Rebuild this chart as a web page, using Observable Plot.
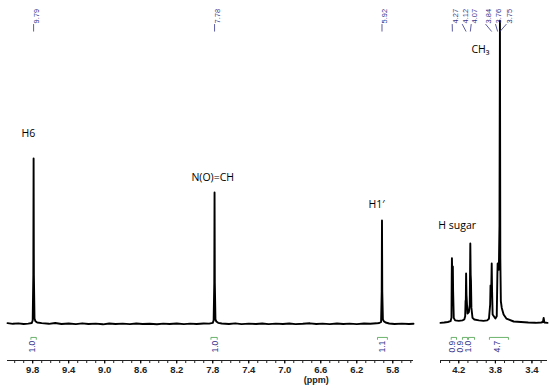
<!DOCTYPE html>
<html><head><meta charset="utf-8">
<script src="https://cdn.jsdelivr.net/npm/d3@7"></script>
<script src="https://cdn.jsdelivr.net/npm/@observablehq/plot@0.6"></script>
<style>
body{margin:0;background:#fff;}
#chart{position:relative;width:550px;height:388px;overflow:hidden;}
#left{position:absolute;left:0;top:0;width:425px;}
#right{position:absolute;left:430px;top:0;width:120px;}
</style></head><body>
<div id="chart"><div id="left"></div><div id="right"></div></div>
<script>
// ---- spectrum, left window (ppm, relative intensity) ----
const leftPpm = [10.08,10.02,9.96,9.90,9.85,9.81,9.80,9.793,9.79,9.787,9.78,9.77,9.75,9.70,9.62,9.55,9.48,9.40,9.32,9.25,9.18,9.10,9.02,8.95,8.88,8.80,8.72,8.65,8.58,8.50,8.42,8.35,8.28,8.20,8.12,8.05,7.98,7.90,7.84,7.80,7.79,7.783,7.78,7.777,7.77,7.76,7.74,7.70,7.62,7.55,7.48,7.40,7.32,7.25,7.18,7.10,7.02,6.95,6.88,6.80,6.72,6.65,6.58,6.50,6.42,6.35,6.28,6.20,6.12,6.05,5.98,5.95,5.93,5.923,5.92,5.917,5.91,5.90,5.88,5.84,5.78,5.70,5.62,5.57];
const leftInt = [0.8,0.4,0.7,0.3,0.5,0.9,2.5,30,100,30,3.5,2.0,1.2,0.8,0.4,0.9,0.3,0.6,0.2,0.7,0.3,0.5,0.1,0.6,0.3,0.5,0.2,0.6,0.3,0.4,0.1,0.5,0.3,0.6,0.2,0.5,0.3,0.6,0.5,1.0,2.5,25,79.5,25,3.0,1.8,1.0,0.6,0.3,0.7,0.2,0.5,0.3,0.6,0.2,0.5,0.3,0.6,0.2,0.4,0.7,0.3,0.5,0.2,0.6,0.3,0.5,0.2,0.6,0.4,0.7,0.9,1.5,20,62.7,20,3.0,2.0,1.2,0.6,0.3,0.5,0.3,0.4];

// ---- spectrum, right window ----
const rightPpm = [4.40,4.36,4.32,4.29,4.28,4.277,4.275,4.272,4.268,4.265,4.262,4.255,4.24,4.20,4.16,4.14,4.13,4.126,4.123,4.12,4.116,4.105,4.09,4.08,4.074,4.07,4.067,4.062,4.05,4.03,3.98,3.93,3.89,3.87,3.857,3.853,3.846,3.840,3.836,3.83,3.80,3.785,3.778,3.775,3.770,3.762,3.755,3.750,3.746,3.740,3.73,3.71,3.68,3.60,3.52,3.44,3.36,3.30,3.28,3.272,3.265,3.23];
const rightInt = [1.0,1.2,1.5,2.0,4,30,40,32,30,35,20,4,2.5,2.2,2.5,3,5,14,15,30.7,18,6.6,7.5,12,48.8,30,26.5,10,4,3,2.5,2.2,2.5,3.5,12,23.5,18,36.7,20,6,3.6,5,30,36.7,34,33,60,183,40,14,10,6,3.6,1.8,1.5,1.2,1.0,1.2,1.5,4,1.2,1.0];

// ---- peak pick labels ----
const leftPeakLabels = ["9.79","7.78","5.92"];
const leftPeakPpm = [9.79,7.78,5.92];
const rightPeakLabels = ["4.27","4.12","4.07","3.84","3.76","3.75"];
const rightPeakPpm = [4.27,4.12,4.074,3.84,3.775,3.75];
const rightPeakLabelPpm = [4.272,4.163,4.064,3.908,3.799,3.679];

// ---- integrals ----
const leftIntValues = ["1.0","1.0","1.1"];
const leftIntFrom = [9.82,7.82,5.97];
const leftIntTo = [9.76,7.75,5.86];
const leftIntTextPpm = [9.80,7.77,5.915];
const rightIntValues = ["0.9","0.9","1.0","4.7"];
const rightIntFrom = [4.283,4.16,4.094,3.865];
const rightIntTo = [4.225,4.105,4.028,3.657];
const rightIntTextPpm = [4.269,4.181,4.094,3.777];

// ---- assignments ----
const leftAssign = ["H6","N(O)=CH","H1\u2032"];
const leftAssignPpm = [9.847,7.80,5.98];
const leftAssignInt = [115,88.6,72];
const rightAssign = ["H sugar","CH\u2083"];
const rightAssignPpm = [4.217,3.963];
const rightAssignInt = [59.6,165.7];

// ---- axis ticks ----
const leftMajor = [9.8,9.4,9.0,8.6,8.2,7.8,7.4,7.0,6.6,6.2,5.8];
const leftMinor = d3.range(100, 55, -1).map(v => v / 10);
const rightMajor = [4.2,3.8,3.4];
const rightMinor = d3.range(44, 32, -1).map(v => v / 10);

const yDomain = [-21.7, 195.2];
const navy = "#34348c";
const green = "#45a045";

function panel({width, ml, mr, domain, ppm, ints, pkLab, pkPpm, pkLabPpm, iv, iFrom, iTo, iText, asg, asgPpm, asgInt, major, minor, ppmLabel}) {
  const idx = d3.range(ppm.length);
  const pk = d3.range(pkLab.length);
  const ii = d3.range(iv.length);
  const aa = d3.range(asg.length);
  const marks = [
    Plot.ruleY([yDomain[0]], {stroke: "#222", strokeWidth: 1}),
    Plot.axisX({ticks: minor, tickSize: 3, tickFormat: () => "", stroke: "#222"}),
    Plot.axisX({ticks: major, tickSize: 3.5, tickPadding: 2.5, tickFormat: d => d.toFixed(1), fontWeight: "bold", fontSize: 9.5, fill: "#222"}),
    Plot.line(idx, {x: i => ppm[i], y: i => ints[i], stroke: "black", strokeWidth: 1.9, strokeLinejoin: "round"}),
    // peak-pick labels
    Plot.text(pk, {x: i => pkLabPpm[i], frameAnchor: "top", dy: 23, text: i => pkLab[i], rotate: -90, textAnchor: "start", fontSize: 7.5, fill: navy}),
    Plot.link(pk, {x1: i => pkLabPpm[i], x2: i => pkPpm[i], y1: () => 181, y2: () => 176.5, stroke: navy, strokeWidth: 0.8}),
    // integrals
    Plot.link(ii, {x1: i => iFrom[i], x2: i => iTo[i], y1: () => -7.8, y2: () => -7.8, stroke: green, strokeWidth: 0.8}),
    Plot.link(ii, {x1: i => iFrom[i], x2: i => iFrom[i], y1: () => -7.8, y2: () => -9.2, stroke: green, strokeWidth: 0.8}),
    Plot.link(ii, {x1: i => iTo[i], x2: i => iTo[i], y1: () => -7.8, y2: () => -9.2, stroke: green, strokeWidth: 0.8}),
    Plot.text(ii, {x: i => iText[i], y: () => -9.8, text: i => iv[i], rotate: -90, textAnchor: "end", fontSize: 8.5, fill: navy}),
    // assignments
    Plot.text(aa, {x: i => asgPpm[i], y: i => asgInt[i], text: i => asg[i], fontSize: 10.5, fill: "black", fontFamily: "Open Sans"})
  ];
  if (ppmLabel) marks.push(Plot.text(["(ppm)"], {x: () => ppmLabel, frameAnchor: "bottom", dy: 22.5, fontWeight: "bold", fontSize: 9, fill: "#222"}));
  return Plot.plot({
    width, height: 388,
    marginLeft: ml, marginRight: mr, marginTop: 0, marginBottom: 28,
    style: {fontFamily: "Liberation Sans, Arial, sans-serif", background: "white", overflow: "visible"},
    x: {domain, label: null},
    y: {domain: yDomain, axis: null},
    marks
  });
}

document.getElementById("left").append(panel({
  width: 425, ml: 7, mr: 12, domain: [10.08, 5.57],
  ppm: leftPpm, ints: leftInt,
  pkLab: leftPeakLabels, pkPpm: leftPeakPpm, pkLabPpm: leftPeakPpm,
  iv: leftIntValues, iFrom: leftIntFrom, iTo: leftIntTo, iText: leftIntTextPpm,
  asg: leftAssign, asgPpm: leftAssignPpm, asgInt: leftAssignInt,
  major: leftMajor, minor: leftMinor, ppmLabel: 6.65
}));
document.getElementById("right").append(panel({
  width: 120, ml: 10, mr: 3, domain: [4.40, 3.23],
  ppm: rightPpm, ints: rightInt,
  pkLab: rightPeakLabels, pkPpm: rightPeakPpm, pkLabPpm: rightPeakLabelPpm,
  iv: rightIntValues, iFrom: rightIntFrom, iTo: rightIntTo, iText: rightIntTextPpm,
  asg: rightAssign, asgPpm: rightAssignPpm, asgInt: rightAssignInt,
  major: rightMajor, minor: rightMinor, ppmLabel: null
}));
</script>
</body></html>
